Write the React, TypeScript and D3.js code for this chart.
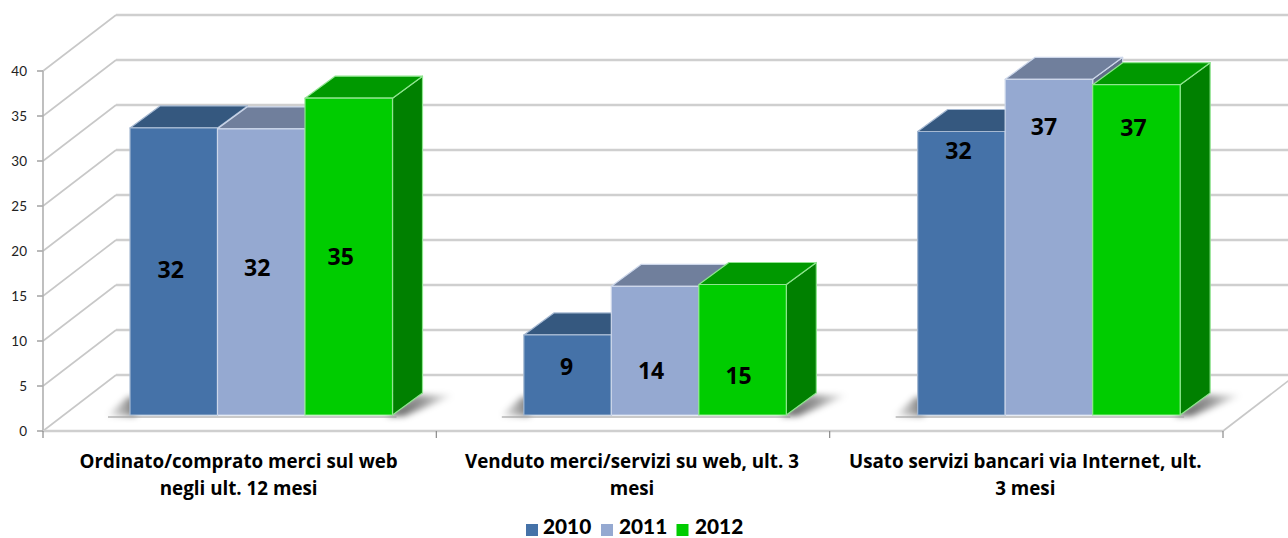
import React from "react";
import * as d3 from "d3";

const categories = ["Ordinato/comprato merci sul web", "Venduto merci/servizi su web, ult. 3", "Usato servizi bancari via Internet, ult."];
const categoriesLine2 = ["negli ult. 12 mesi", "mesi", "3 mesi"];
const seriesNames = ["2010", "2011", "2012"];
const values2010 = [31.9, 8.9, 31.5];
const values2011 = [31.8, 14.3, 37.3];
const values2012 = [35.2, 14.5, 36.7];
const labels2010 = ["32", "9", "32"];
const labels2011 = ["32", "14", "37"];
const labels2012 = ["35", "15", "37"];
const labelLevel2010 = [16.1, 5.3, 29.3];
const labelLevel2011 = [16.3, 4.9, 32];
const labelLevel2012 = [17.6, 4.3, 31.9];
const yTicks = [0, 5, 10, 15, 20, 25, 30, 35, 40];

const W = 1288, H = 538;
const frontColors = ["#4472a8", "#95a9d1", "#00cc00"];
const topColors = ["#34587f", "#6f7f9c", "#009900"];
const sideColors = ["#2c4a6c", "#5f6d88", "#008000"];
const edgeColors = ["#a6b9d2", "#cdd7ea", "#8fe58f"];
const labelShiftX = [[-3, -4, -8], [-1, -4, -4], [-3, -5, -3]];

const wallDx = 73, wallDy = -56;
const barDx = 30, barDy = -22;
const font = "Lato, 'Open Sans', sans-serif";
const catFont = "'Open Sans', Lato, sans-serif";

const yAxis = d3.scaleLinear().domain([0, 40]).range([431, 71]);
const yBar = d3.scaleLinear().domain([0, 40]).range([415, 55]);
const xGroup = d3.scaleBand<number>().domain([0, 1, 2]).range([43, 1223]);
const xMarks = d3.scaleBand<number>().domain([0, 1, 2]).range([43, 1224.5]);
const xSeries = d3.scaleBand<number>().domain([0, 1, 2]).range([87, 349.5]);

const pts = (p: [number, number][]) => d3.line()(p) + "Z";

export default function App() {
  const series = [values2010, values2011, values2012];
  const labels = [labels2010, labels2011, labels2012];
  const levels = [labelLevel2010, labelLevel2011, labelLevel2012];
  const bw = xSeries.bandwidth();
  return (
    <svg width={W} height={H} viewBox={`0 0 ${W} ${H}`} style={{ position: "absolute", left: 0, top: 0, background: "#fff" }}>
      <defs>
        <filter id="soft" x="-5%" y="-5%" width="110%" height="110%"><feGaussianBlur stdDeviation="0.55" /></filter>
        <filter id="shadow" filterUnits="userSpaceOnUse" x="0" y="340" width={W} height="110"><feGaussianBlur stdDeviation="3" /></filter>
        <linearGradient id="shadeL" x1="0" x2="1" y1="0" y2="0">
          <stop offset="0" stopColor="#000" stopOpacity="0" />
          <stop offset="1" stopColor="#000" stopOpacity="0.55" />
        </linearGradient>
        <linearGradient id="shadeR" x1="0" x2="1" y1="0" y2="0">
          <stop offset="0" stopColor="#000" stopOpacity="0.7" />
          <stop offset="0.55" stopColor="#000" stopOpacity="0.38" />
          <stop offset="1" stopColor="#000" stopOpacity="0" />
        </linearGradient>
      </defs>
      <g filter="url(#soft)">
        {yTicks.map((t) => (
          <g key={t} fill="none">
            <line x1={43 + wallDx} x2={W + 10} y1={yAxis(t) + wallDy} y2={yAxis(t) + wallDy} stroke="#cfcfcf" strokeWidth={2.4} />
            <line x1={43} x2={43 + wallDx} y1={yAxis(t)} y2={yAxis(t) + wallDy} stroke="#c8c8c8" strokeWidth={1.6} />
            <line x1={37} x2={43} y1={yAxis(t)} y2={yAxis(t)} stroke="#8a8a8a" strokeWidth={1.2} />
          </g>
        ))}
        <line x1={1223} x2={1223 + wallDx} y1={431} y2={431 + wallDy} stroke="#c8c8c8" strokeWidth={1.6} />
        <line x1={43} x2={43} y1={71} y2={431} stroke="#b0b0b0" strokeWidth={1.6} />
        <line x1={43} x2={1223} y1={431} y2={431} stroke="#cfcfcf" strokeWidth={2.6} />
        {d3.range(4).map((i) => {
          const x = i < 3 ? xGroup(i)! : 1223;
          return <line key={i} x1={x} x2={x} y1={431} y2={438} stroke="#8a8a8a" strokeWidth={1.2} />;
        })}
        {categories.map((_, g) => {
          const x0 = xMarks(g)! + xSeries(0)!;
          const x1 = xMarks(g)! + xSeries(2)! + bw;
          const base = yBar(0);
          return (
            <g key={g}>
              <g filter="url(#shadow)">
                <path d={pts([[x0 - 24, base + 1], [x0 - 2, base - 18], [x0 + 6, base - 18], [x0 + 6, base + 1]])} fill="url(#shadeL)" />
                <path d={pts([[x1 - 6, base + 1], [x1 + barDx - 6, base + barDy + 2], [x1 + barDx + 32, base + barDy + 2], [x1 + 12, base + 1]])} fill="url(#shadeR)" />
              </g>
              <line x1={x0 - 22} x2={x1 + 4} y1={base + 2} y2={base + 2} stroke="#9a9a9a" strokeWidth={1.6} opacity={0.7} />
            </g>
          );
        })}
        {categories.map((_, g) =>
          series.map((vals, s) => {
            const x = xMarks(g)! + xSeries(s)!;
            const y = yBar(vals[g]);
            const b = yBar(0);
            const edge = { stroke: edgeColors[s], strokeWidth: 1.2, strokeLinejoin: "round" as const };
            return (
              <g key={`${g}-${s}`}>
                <path d={pts([[x + bw, y], [x + bw + barDx, y + barDy], [x + bw + barDx, b + barDy], [x + bw, b]])} fill={sideColors[s]} {...edge} />
                <path d={pts([[x, y], [x + barDx, y + barDy], [x + bw + barDx, y + barDy], [x + bw, y]])} fill={topColors[s]} {...edge} />
                <path d={pts([[x, y], [x + bw, y], [x + bw, b], [x, b]])} fill={frontColors[s]} {...edge} />
              </g>
            );
          })
        )}
        {seriesNames.map((_, s) => {
          const x = [526, 601, 676.5][s];
          return <rect key={s} x={x} y={524} width={12} height={12} fill={frontColors[s]} />;
        })}
      </g>
      <g fontFamily={font} fill="#000">
        {yTicks.map((t) => (
          <text key={t} x={27} y={yAxis(t)} dy="0.34em" textAnchor="end" fontSize={13.5} fill="#222">{t}</text>
        ))}
        {categories.map((c, g) => {
          const cx = xGroup(g)! + xGroup.bandwidth() / 2 - 1;
          return (
            <g key={g} fontFamily={catFont} fontWeight={700} fontSize={18.8} textAnchor="middle">
              <text x={cx} y={468}>{c}</text>
              <text x={cx} y={495}>{categoriesLine2[g]}</text>
            </g>
          );
        })}
        {categories.map((_, g) =>
          labels.map((lab, s) => (
            <text key={`${g}-${s}`} x={xMarks(g)! + xSeries(s)! + bw / 2 + labelShiftX[g][s]} y={yBar(levels[s][g])} dy="0.35em"
              textAnchor="middle" fontFamily={catFont} fontWeight={700} fontSize={23}>{lab[g]}</text>
          ))
        )}
        {seriesNames.map((n, s) => (
          <text key={n} x={[543, 619, 695][s]} y={534} fontWeight={900} fontSize={20.8}>{n}</text>
        ))}
      </g>
    </svg>
  );
}
